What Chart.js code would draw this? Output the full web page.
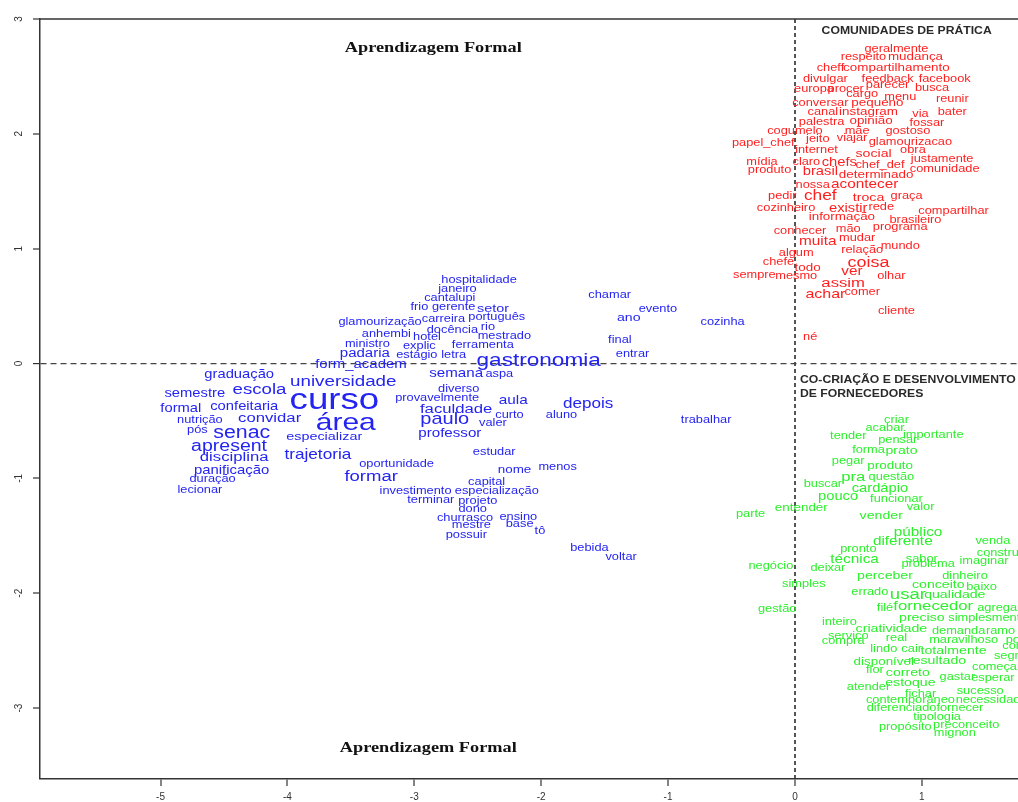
<!DOCTYPE html>
<html>
<head>
<meta charset="utf-8">
<script src="https://cdn.jsdelivr.net/npm/chart.js@4.4.1/dist/chart.umd.min.js"></script>
<style>
  html, body { margin: 0; padding: 0; background: #fff; overflow: hidden; }
  #wrap { position: relative; width: 1018px; height: 802px; }
</style>
</head>
<body>
<div id="wrap"><canvas id="plot"></canvas></div>
<script>
// word, dimension 1, dimension 2, relative weight
const redWords = [
  ["geralmente", 0.80, 2.74, 1], ["respeito", 0.54, 2.67, 1], ["mudança", 0.95, 2.67, 1.05],
  ["cheff", 0.28, 2.57, 1], ["compartilhamento", 0.80, 2.57, 1.05],
  ["divulgar", 0.24, 2.48, 1], ["feedback", 0.73, 2.48, 1], ["facebook", 1.18, 2.48, 1],
  ["europa", 0.15, 2.39, 1], ["procer", 0.40, 2.39, 1], ["parecer", 0.73, 2.42, 1], ["busca", 1.08, 2.40, 1],
  ["cargo", 0.53, 2.35, 1], ["menu", 0.83, 2.32, 1],
  ["conversar", 0.20, 2.27, 1], ["pequeno", 0.65, 2.27, 1.05], ["reunir", 1.24, 2.30, 1],
  ["canal", 0.22, 2.19, 1], ["instagram", 0.58, 2.19, 1.05], ["via", 0.99, 2.17, 1], ["bater", 1.24, 2.19, 1],
  ["palestra", 0.21, 2.10, 1], ["opinião", 0.60, 2.11, 1.05], ["fossar", 1.04, 2.09, 1],
  ["cogumelo", 0.00, 2.02, 1], ["mãe", 0.49, 2.02, 1], ["gostoso", 0.89, 2.02, 1],
  ["papel_chef", -0.25, 1.92, 1], ["jeito", 0.18, 1.95, 1], ["viajar", 0.45, 1.96, 1], ["glamourizacao", 0.91, 1.93, 1],
  ["internet", 0.17, 1.86, 1], ["social", 0.62, 1.83, 1.1], ["obra", 0.93, 1.86, 1], ["justamente", 1.16, 1.78, 1],
  ["mídia", -0.26, 1.75, 1], ["claro", 0.09, 1.75, 1], ["chefs", 0.35, 1.75, 1.15], ["chef_def", 0.67, 1.73, 1],
  ["produto", -0.20, 1.68, 1], ["brasil", 0.20, 1.67, 1.15], ["comunidade", 1.18, 1.69, 1],
  ["determinado", 0.64, 1.64, 1.05], ["nossa", 0.14, 1.55, 1], ["acontecer", 0.55, 1.56, 1.2],
  ["pedir", -0.10, 1.46, 1], ["chef", 0.20, 1.46, 1.35], ["troca", 0.58, 1.44, 1.1], ["graça", 0.88, 1.46, 1],
  ["cozinheiro", -0.07, 1.35, 1], ["existir", 0.42, 1.35, 1.15], ["rede", 0.68, 1.36, 1], ["compartilhar", 1.25, 1.33, 1],
  ["informação", 0.37, 1.28, 1.05], ["brasileiro", 0.95, 1.25, 1],
  ["conhecer", 0.04, 1.15, 1], ["mão", 0.42, 1.17, 1], ["programa", 0.83, 1.19, 1],
  ["muita", 0.18, 1.06, 1.2], ["mudar", 0.49, 1.09, 1], ["algum", 0.01, 0.96, 1], ["relação", 0.53, 0.99, 1], ["mundo", 0.83, 1.02, 1],
  ["chefe", -0.13, 0.88, 1], ["todo", 0.10, 0.83, 1.05], ["coisa", 0.58, 0.88, 1.4], ["ver", 0.45, 0.80, 1.2],
  ["sempre", -0.32, 0.77, 1], ["mesmo", 0.01, 0.76, 1], ["olhar", 0.76, 0.76, 1],
  ["assim", 0.38, 0.70, 1.3], ["achar", 0.24, 0.60, 1.25], ["comer", 0.53, 0.62, 1],
  ["cliente", 0.80, 0.46, 1], ["né", 0.12, 0.23, 1]
];

const greenWords = [
  ["criar", 0.80, -0.49, 1], ["acabar", 0.71, -0.56, 1], ["tender", 0.42, -0.63, 1], ["importante", 1.09, -0.62, 1],
  ["pensar", 0.81, -0.67, 1], ["forma", 0.58, -0.75, 1], ["prato", 0.84, -0.76, 1.1],
  ["pegar", 0.42, -0.85, 1], ["produto", 0.75, -0.89, 1.05],
  ["buscar", 0.22, -1.05, 1], ["pra", 0.46, -0.99, 1.3], ["questão", 0.76, -0.99, 1],
  ["cardápio", 0.67, -1.09, 1.15], ["pouco", 0.34, -1.16, 1.15], ["funcionar", 0.80, -1.18, 1], ["valor", 0.99, -1.25, 1],
  ["parte", -0.35, -1.31, 1], ["entender", 0.05, -1.26, 1.05], ["vender", 0.68, -1.33, 1.1],
  ["público", 0.97, -1.47, 1.2], ["diferente", 0.85, -1.55, 1.2], ["venda", 1.56, -1.55, 1],
  ["pronto", 0.50, -1.62, 1], ["técnica", 0.47, -1.71, 1.2], ["sabor", 1.00, -1.70, 1],
  ["construção", 1.68, -1.65, 1], ["imaginar", 1.49, -1.72, 1], ["problema", 1.05, -1.75, 1],
  ["negócio", -0.19, -1.76, 1], ["deixar", 0.26, -1.78, 1], ["perceber", 0.71, -1.85, 1.1], ["dinheiro", 1.34, -1.85, 1],
  ["simples", 0.07, -1.92, 1], ["conceito", 1.13, -1.93, 1.1], ["baixo", 1.47, -1.95, 1],
  ["errado", 0.59, -1.99, 1], ["usar", 0.89, -2.01, 1.45], ["qualidade", 1.26, -2.01, 1.1],
  ["gestão", -0.14, -2.14, 1], ["filé", 0.71, -2.13, 1], ["fornecedor", 1.09, -2.11, 1.3], ["agregar", 1.61, -2.13, 1],
  ["preciso", 1.00, -2.21, 1.1], ["simplesmente", 1.52, -2.22, 1],
  ["inteiro", 0.35, -2.25, 1], ["criatividade", 0.76, -2.31, 1.1], ["demanda", 1.29, -2.33, 1], ["ramo", 1.62, -2.33, 1],
  ["serviço", 0.42, -2.37, 1], ["compra", 0.38, -2.42, 1], ["real", 0.80, -2.39, 1], ["maravilhoso", 1.33, -2.41, 1], ["poder", 1.79, -2.41, 1],
  ["lindo", 0.70, -2.49, 1], ["cair", 0.92, -2.49, 1], ["totalmente", 1.25, -2.50, 1.1], ["comum", 1.80, -2.46, 1], ["segmento", 1.79, -2.55, 1],
  ["disponível", 0.70, -2.60, 1.05], ["resultado", 1.12, -2.59, 1.1], ["começar", 1.59, -2.64, 1],
  ["flor", 0.63, -2.67, 1], ["correto", 0.89, -2.69, 1.1], ["gastar", 1.28, -2.73, 1], ["esperar", 1.56, -2.74, 1],
  ["atender", 0.58, -2.82, 1], ["estoque", 0.91, -2.78, 1.1], ["fichar", 0.99, -2.88, 1], ["sucesso", 1.46, -2.85, 1],
  ["contemporâneo", 0.91, -2.93, 1], ["necessidade", 1.55, -2.93, 1],
  ["diferenciado", 0.84, -3.00, 1], ["fornecer", 1.30, -3.00, 1], ["tipologia", 1.12, -3.08, 1],
  ["propósito", 0.87, -3.17, 1], ["preconceito", 1.35, -3.15, 1], ["mignon", 1.26, -3.22, 1]
];

const blueWords = [
  ["hospitalidade", -2.49, 0.73, 1], ["janeiro", -2.66, 0.65, 1], ["cantalupi", -2.72, 0.57, 1],
  ["frio", -2.96, 0.49, 1], ["gerente", -2.69, 0.49, 1], ["setor", -2.38, 0.48, 1.12],
  ["carreira", -2.77, 0.39, 1], ["português", -2.35, 0.40, 1], ["glamourização", -3.27, 0.36, 1],
  ["anhembi", -3.22, 0.26, 1], ["hotel", -2.90, 0.23, 1], ["docência", -2.70, 0.29, 1], ["rio", -2.42, 0.32, 1],
  ["mestrado", -2.29, 0.24, 1], ["ministro", -3.37, 0.17, 1], ["explic", -2.96, 0.15, 1], ["ferramenta", -2.46, 0.16, 1],
  ["padaria", -3.39, 0.09, 1.17], ["estágio", -2.98, 0.07, 1], ["letra", -2.69, 0.07, 1],
  ["form_academ", -3.42, -0.01, 1.17], ["gastronomia", -2.02, 0.02, 1.76],
  ["graduação", -4.38, -0.10, 1.15], ["universidade", -3.56, -0.16, 1.47], ["semana", -2.67, -0.09, 1.18], ["aspa", -2.33, -0.09, 1],
  ["escola", -4.22, -0.23, 1.46], ["semestre", -4.73, -0.26, 1.15], ["curso", -3.63, -0.32, 2.86],
  ["diverso", -2.65, -0.22, 1], ["provavelmente", -2.82, -0.30, 1],
  ["formal", -4.84, -0.39, 1.15], ["confeitaria", -4.34, -0.38, 1.15], ["faculdade", -2.67, -0.40, 1.3],
  ["aula", -2.22, -0.32, 1.2], ["depois", -1.63, -0.35, 1.33], ["curto", -2.25, -0.45, 1], ["aluno", -1.84, -0.45, 1],
  ["trabalhar", -0.70, -0.49, 1],
  ["nutrição", -4.69, -0.49, 1], ["convidar", -4.14, -0.48, 1.3], ["área", -3.54, -0.52, 2.34],
  ["paulo", -2.76, -0.49, 1.56], ["valer", -2.38, -0.52, 1],
  ["pós", -4.71, -0.58, 1], ["senac", -4.36, -0.61, 1.67], ["especializar", -3.71, -0.64, 1.12], ["professor", -2.72, -0.61, 1.18],
  ["apresent", -4.46, -0.72, 1.52], ["disciplina", -4.42, -0.82, 1.3], ["trajetoria", -3.76, -0.80, 1.34], ["estudar", -2.37, -0.77, 1],
  ["oportunidade", -3.14, -0.88, 1], ["panificação", -4.44, -0.93, 1.16], ["nome", -2.21, -0.93, 1.05], ["menos", -1.87, -0.90, 1],
  ["formar", -3.34, -0.99, 1.45], ["duração", -4.59, -1.01, 1], ["capital", -2.43, -1.03, 1],
  ["lecionar", -4.69, -1.10, 1], ["investimento", -2.99, -1.11, 1], ["especialização", -2.35, -1.11, 1],
  ["terminar", -2.87, -1.19, 1], ["projeto", -2.50, -1.20, 1], ["dono", -2.54, -1.27, 1],
  ["ensino", -2.18, -1.34, 1], ["churrasco", -2.60, -1.35, 1], ["mestre", -2.55, -1.41, 1], ["base", -2.17, -1.40, 1],
  ["tô", -2.01, -1.46, 1], ["possuir", -2.59, -1.49, 1], ["bebida", -1.62, -1.61, 1], ["voltar", -1.37, -1.69, 1],
  ["chamar", -1.46, 0.60, 1], ["evento", -1.08, 0.47, 1], ["ano", -1.31, 0.40, 1.1],
  ["cozinha", -0.57, 0.36, 1], ["final", -1.38, 0.20, 1], ["entrar", -1.28, 0.08, 1]
];

// region labels: text, dimension 1, dimension 2
const regionTitles = [
  ["Aprendizagem Formal", -2.85, 2.75],
  ["Aprendizagem Formal", -2.89, -3.35]
];
const clusterTitles = [
  ["COMUNIDADES DE PRÁTICA", 0.21, 2.89],
  ["CO-CRIAÇÃO E DESENVOLVIMENTO", 0.04, -0.15],
  ["DE FORNECEDORES", 0.04, -0.27]
];

const xTicks = [-5, -4, -3, -2, -1, 0, 1];
const yTicks = [-3, -2, -1, 0, 1, 2, 3];

const STRETCH = 1.22;   // the source image is widened horizontally
const BASE_PX = 10.5;

function toPoints(rows) {
  return rows.map(r => ({ x: r[1], y: r[2] }));
}

function drawStretched(ctx, text, x, y) {
  ctx.save();
  ctx.translate(x, y);
  ctx.scale(STRETCH, 1);
  ctx.fillText(text, 0, 0);
  ctx.restore();
}

const wordPlugin = {
  id: "words",
  afterDatasetsDraw(chart) {
    const ctx = chart.ctx;
    const xs = chart.scales.x, ys = chart.scales.y;
    ctx.save();
    ctx.textBaseline = "middle";

    chart.data.datasets.forEach((ds, di) => {
      const meta = chart.getDatasetMeta(di);
      ctx.fillStyle = ds.textColor;
      ctx.textAlign = "center";
      meta.data.forEach((pt, i) => {
        const row = ds.rows[i];
        ctx.font = `${(BASE_PX * row[3]).toFixed(1)}px "Liberation Sans", Arial, sans-serif`;
        drawStretched(ctx, row[0], pt.x, pt.y);
      });
    });

    ctx.fillStyle = "#111";
    ctx.textAlign = "center";
    ctx.font = 'bold 15px "Liberation Serif", "Times New Roman", serif';
    regionTitles.forEach(t => drawStretched(ctx, t[0], xs.getPixelForValue(t[1]), ys.getPixelForValue(t[2])));

    ctx.fillStyle = "#2a2a2a";
    ctx.textAlign = "left";
    ctx.font = 'bold 10px "Liberation Sans", Arial, sans-serif';
    clusterTitles.forEach(t => drawStretched(ctx, t[0], xs.getPixelForValue(t[1]), ys.getPixelForValue(t[2])));

    // top edge of the plot box
    const a = chart.chartArea;
    ctx.strokeStyle = "#333";
    ctx.lineWidth = 1.5;
    ctx.beginPath();
    ctx.moveTo(a.left, a.top);
    ctx.lineTo(a.right, a.top);
    ctx.stroke();
    ctx.restore();
  }
};

function wordSet(rows, color) {
  return { data: toPoints(rows), rows: rows, textColor: color, pointRadius: 0, pointHoverRadius: 0, showLine: false };
}

new Chart(document.getElementById("plot"), {
  type: "scatter",
  data: {
    datasets: [
      wordSet(blueWords, "#2424f2"),
      wordSet(redWords, "#ff1f1f"),
      wordSet(greenWords, "#2cf02c")
    ]
  },
  options: {
    responsive: true,
    maintainAspectRatio: false,
    animation: false,
    events: [],
    layout: { padding: { top: 19, right: 0, bottom: 0, left: 0 } },
    plugins: { legend: { display: false }, tooltip: { enabled: false } },
    scales: {
      x: {
        type: "linear",
        min: -5.95,
        max: 1.758,
        afterFit: s => { s.height = 23; },
        afterBuildTicks: s => { s.ticks = xTicks.map(v => ({ value: v })); },
        ticks: { color: "#333", font: { size: 10, family: "Liberation Sans" }, padding: 5, maxRotation: 0 },
        grid: {
          drawOnChartArea: true,
          color: c => (c.tick && c.tick.value === 0 ? "#555" : "rgba(0,0,0,0)"),
          lineWidth: c => (c.tick && c.tick.value === 0 ? 2 : 0),
          tickLength: 7, tickColor: "#333", tickWidth: 1.2
        },
        border: { display: true, color: "#333", width: 1.5, dash: [4, 3] }
      },
      y: {
        type: "linear",
        min: -3.618,
        max: 3,
        afterFit: s => { s.width = 40; },
        afterBuildTicks: s => { s.ticks = yTicks.map(v => ({ value: v })); },
        ticks: { color: "#333", font: { size: 10, family: "Liberation Sans" }, padding: 9, minRotation: 90, maxRotation: 90, crossAlign: "center" },
        grid: {
          drawOnChartArea: true,
          color: c => (c.tick && c.tick.value === 0 ? "#444" : "rgba(0,0,0,0)"),
          lineWidth: c => (c.tick && c.tick.value === 0 ? 1.2 : 0),
          tickLength: 7, tickColor: "#333", tickWidth: 1.2
        },
        border: { display: true, color: "#333", width: 1.5, dash: [6, 4] }
      }
    }
  },
  plugins: [wordPlugin]
});
</script>
</body>
</html>
